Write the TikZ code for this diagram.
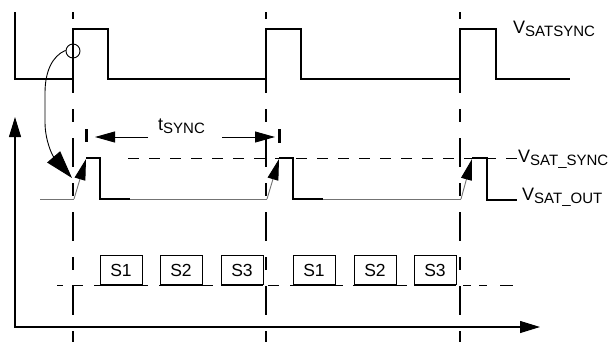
\documentclass[tikz,border=0pt]{standalone}
\usepackage{fontspec}
\setmainfont{Liberation Sans}
\usetikzlibrary{arrows.meta}
\newcommand\siglbl[2]{{\fontsize{18}{20}\selectfont #1}{\fontsize{15}{17}\selectfont\raisebox{-3.5pt}{#2}}}
\begin{document}
\begin{tikzpicture}[x=1pt,y=-1pt,
  toptrace/.style={line width=2.8pt,line join=miter},
  vdash/.style={line width=2.5pt,dash pattern=on 29pt off 16pt on 13pt off 16pt,dash phase=22pt},
  greytrace/.style={line width=0.9pt,draw=black!55},
  blacktrace/.style={line width=1.1pt},
  hdash/.style={line width=1pt,dash pattern=on 11pt off 10pt},
  risearrow/.style={greytrace,-{Triangle[length=21pt,width=11pt,black]}},
  bigtip/.style={-{Triangle[length=20pt,width=11pt]}},
  slotbox/.style={draw,line width=0.9pt,minimum width=42pt,minimum height=29pt,inner sep=0pt,font=\fontsize{17.5}{19}\selectfont},
  lbl/.style={inner sep=0pt,anchor=base west}]
\useasboundingbox (0,0) rectangle (610,341);
% vertical dashed lines
\foreach \xx/\nm in {73/a,266/b,460/c}{
  \coordinate (v\nm top) at (\xx,12);
  \coordinate (v\nm bot) at (\xx,350);
  \draw[vdash] (v\nm top) -- (v\nm bot);
}
% top trace
\draw[toptrace] (15,12) -- (15,79) -- (73,79) -- (73,29) -- (108,29) -- (108,79)
  -- (266,79) -- (266,29) -- (301,29) -- (301,79) -- (460,79) -- (460,29) -- (496,29) -- (496,79) -- (570,79);
\node[lbl] (vsatsync) at (513,33) {\siglbl{V}{SATSYNC}};
% circle and curved arrow
\node[circle,draw,line width=0.9pt,minimum size=14pt,inner sep=0pt] (ring) at (73,51) {};
\draw[line width=0.9pt,-{Triangle[length=28pt,width=17pt]}] (ring.175) .. controls (52,56) and (45,72) .. (45,93)
  -- (45,122) .. controls (45,140) and (52,155) .. (72,178);
% axes
\coordinate (ytip) at (15,117);
\coordinate (org) at (15,327);
\coordinate (xtip) at (540,327);
\draw[line width=1.1pt,{Triangle[length=20pt,width=12pt]}-{Triangle[length=20pt,width=12pt]}] (ytip) -- (org) -- (xtip);
% t_sync
\draw[line width=3pt] (86,129) -- (86,142);
\draw[line width=3pt] (279,129) -- (279,143);
\coordinate (tl1) at (148,137); \coordinate (tl2) at (95,137);
\coordinate (tr1) at (222,137); \coordinate (tr2) at (275,137);
\draw[line width=0.9pt,bigtip] (tl1) -- (tl2);
\draw[line width=0.9pt,bigtip] (tr1) -- (tr2);
\node[lbl] (tsync) at (158,130) {\siglbl{t}{SYNC}};
% dashed sync level
\draw[hdash] (128,158) -- (517,158);
% middle trace
\draw[greytrace] (40,199) -- (74,199);
\draw[risearrow] (74,199) -- (86,159);
\draw[blacktrace] (86,158) -- (100,158) -- (100,199) -- (130,199);
\draw[greytrace] (130,199) -- (267,199);
\draw[risearrow] (267,199) -- (279,159);
\draw[blacktrace] (279,158) -- (293,158) -- (293,199) -- (323,199);
\draw[greytrace] (323,199) -- (461,199);
\draw[risearrow] (461,199) -- (472,159);
\draw[blacktrace] (472,158) -- (487,158) -- (487,200) -- (517,200);
\node[lbl] (vsatsyncb) at (518,162) {\siglbl{V}{SAT\_SYNC}};
\node[lbl] (vsatout) at (522,200) {\siglbl{V}{SAT\_OUT}};
% slots
\draw[line width=0.9pt] (57,285) -- (63,285) (72,285) -- (83,285) (94,285) -- (148,285)
  (159,285) -- (213,285) (221,285) -- (263,285) (268,285) -- (279,285) (290,285) -- (343,285)
  (353,285) -- (407,285) (414,285) -- (456,285) (463,285) -- (471,285) (479,285) -- (487,285) (500,285) -- (513,285);
\foreach \xx/\nm/\tx in {121/s1a/S1,181/s2a/S2,242/s3a/S3,314/s1b/S1,375/s2b/S2,435/s3b/S3}{
  \node[slotbox,anchor=south] (\nm) at (\xx,285) {\tx};
}
\end{tikzpicture}
\end{document}
